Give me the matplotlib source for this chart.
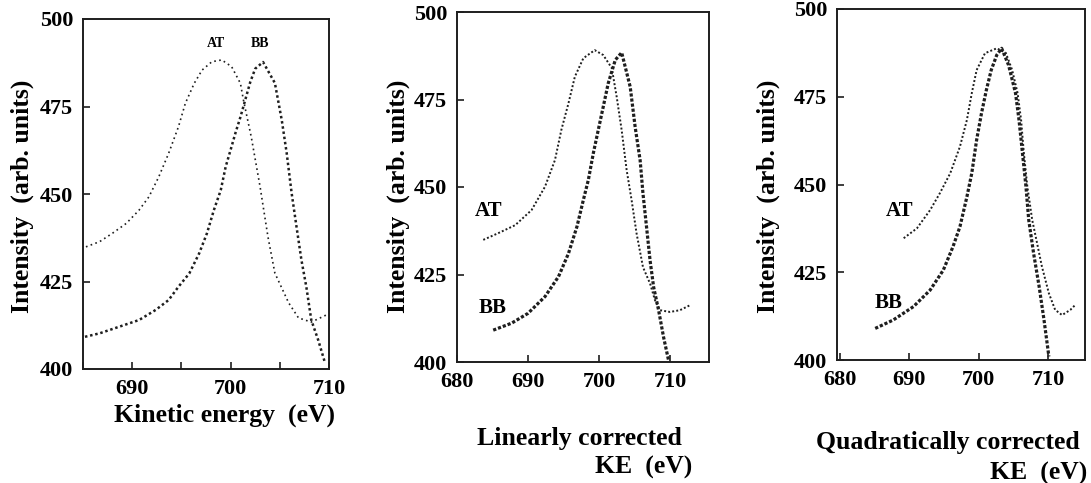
import matplotlib
matplotlib.use('Agg')
from matplotlib import pyplot as plt
from matplotlib.ticker import MultipleLocator

plt.rcParams['font.family'] = ['Liberation Serif', 'DejaVu Serif']
plt.rcParams['font.weight'] = 'bold'

# Panel 1: raw kinetic energy
at1_x = [685.3, 686.7, 688.0, 689.4, 690.7, 691.7, 692.7, 693.7, 694.7, 695.4, 696.3, 697.1,
         698.1, 699.1, 700.1, 701.0, 701.3, 702.1, 703.0, 703.8, 704.5, 705.9, 706.9, 708.2,
         709.7]
at1_y = [434.9, 436.4, 438.8, 441.6, 445.4, 449.2, 454.9, 461.6, 469.2, 475.9, 481.6, 485.4,
         487.8, 488.3, 486.4, 481.6, 476.9, 466.3, 452.0, 437.7, 427.4, 418.9, 414.6, 413.4,
         415.4]
bb1_x = [685.2, 686.7, 688.7, 690.7, 692.4, 693.7, 694.7, 695.8, 696.8, 697.6, 698.3, 699.0,
         699.5, 700.0, 700.5, 701.0, 701.5, 702.0, 702.5, 703.3, 704.5, 705.2, 705.7, 706.2,
         706.7, 707.2, 707.7, 708.2, 708.9, 709.6]
bb1_y = [409.2, 410.2, 412.1, 414.0, 416.9, 419.7, 423.5, 427.3, 433.0, 438.8, 445.4, 451.1,
         457.8, 462.6, 467.5, 472.0, 477.0, 482.0, 485.8, 487.7, 481.7, 471.1, 461.7, 450.3,
         440.6, 431.1, 423.4, 414.0, 408.3, 401.7]

# Panel 2: linearly corrected
at2_x = [683.7, 685.8, 688.2, 690.5, 692.4, 693.8, 694.7, 695.7, 696.6, 697.8, 699.4, 700.6,
         701.8, 702.5, 703.2, 703.9, 704.6, 705.3, 706.2, 707.2, 707.9, 708.6, 710.0, 711.4,
         712.8]
at2_y = [434.9, 436.8, 439.1, 443.4, 450.1, 457.7, 466.3, 473.9, 481.5, 486.8, 489.1, 487.7,
         484.0, 475.7, 466.2, 454.8, 446.2, 436.7, 427.1, 422.4, 417.6, 414.8, 414.3, 414.8,
         416.2]
bb2_x = [685.1, 687.7, 690.0, 692.4, 694.3, 695.7, 696.9, 697.8, 698.5, 699.2, 699.9, 700.6,
         701.3, 702.3, 703.2, 704.4, 705.1, 705.8, 706.2, 706.7, 707.2, 707.7, 708.4, 709.1,
         709.8]
bb2_y = [409.1, 411.1, 413.9, 418.7, 424.4, 431.0, 438.7, 446.3, 452.0, 459.6, 466.3, 472.9,
         479.6, 486.3, 488.4, 478.6, 467.1, 457.6, 448.1, 438.6, 429.0, 421.4, 414.8, 407.1,
         400.5]

# Panel 3: quadratically corrected
at3_x = [689.2, 691.1, 693.0, 694.4, 695.9, 697.3, 698.3, 699.0, 699.7, 700.9, 702.6, 703.9,
         704.8, 705.6, 706.1, 706.5, 707.0, 707.7, 708.4, 709.1, 710.1, 711.0, 712.0, 713.2,
         713.9]
at3_y = [434.7, 437.5, 442.7, 447.5, 453.2, 460.8, 468.4, 476.0, 482.6, 487.4, 488.8, 487.5,
         482.7, 476.0, 468.4, 458.9, 449.4, 439.9, 433.3, 426.6, 419.0, 414.3, 412.8, 414.3,
         415.7]
bb3_x = [685.1, 687.7, 690.6, 693.0, 694.9, 696.3, 697.3, 698.3, 699.0, 699.7, 700.4, 701.1,
         701.8, 702.6, 703.3, 704.3, 705.3, 705.8, 706.3, 706.8, 707.2, 707.9, 708.7, 709.4,
         710.1]
bb3_y = [409.0, 411.4, 415.2, 419.9, 425.6, 432.3, 438.0, 446.5, 453.2, 462.7, 470.3, 476.9,
         482.6, 486.9, 488.8, 484.0, 476.0, 468.4, 458.9, 449.4, 439.9, 430.4, 420.9, 411.4,
         401.0]

y_ticks = [400, 425, 450, 475, 500]
ink = '#1e1e1e'

fig = plt.figure(figsize=(10.91, 4.83), dpi=100)
W, H = 1091.0, 483.0


def add_axes(left, top, right, bottom):
    return fig.add_axes([left / W, 1 - bottom / H, (right - left) / W, (bottom - top) / H])


ax1 = add_axes(83, 19, 329, 369)
ax2 = add_axes(457, 12, 709, 362)
ax3 = add_axes(837, 9, 1085, 360)

ax1.plot(at1_x, at1_y, color=ink, lw=1.2, ls=(0, (1, 2.0)))
ax1.plot(bb1_x, bb1_y, color=ink, lw=1.8, ls=(0, (1, 1.1)))
ax1.text(698.5, 493, 'AT', fontsize=10, ha='center', va='center')
ax1.text(703.0, 493, 'BB', fontsize=10, ha='center', va='center')
ax1.set_xlim(685, 710)
ax1.set_xticks([690, 700, 710])
ax1.xaxis.set_minor_locator(MultipleLocator(5))

ax2.plot(at2_x, at2_y, color=ink, lw=1.4, ls=(0, (1, 1.1)))
ax2.plot(bb2_x, bb2_y, color=ink, lw=2.3, ls=(0, (1, 0.6)))
ax2.text(684.4, 443, 'AT', fontsize=15, ha='center', va='center')
ax2.text(685.0, 415.5, 'BB', fontsize=15, ha='center', va='center')
ax2.set_xlim(680, 715.5)
ax2.set_xticks([680, 690, 700, 710])

ax3.plot(at3_x, at3_y, color=ink, lw=1.4, ls=(0, (1, 1.1)))
ax3.plot(bb3_x, bb3_y, color=ink, lw=2.3, ls=(0, (1, 0.6)))
ax3.text(688.6, 442.5, 'AT', fontsize=15, ha='center', va='center')
ax3.text(687.1, 416.2, 'BB', fontsize=15, ha='center', va='center')
ax3.set_xlim(679.6, 715.3)
ax3.set_xticks([680, 690, 700, 710])

for ax in (ax1, ax2, ax3):
    ax.set_ylim(400, 500)
    ax.set_yticks(y_ticks)
    ax.tick_params(direction='in', length=5, width=1.2, labelsize=16, pad=7, color=ink)
    ax.tick_params(which='minor', direction='in', length=5, width=1.2, color=ink)
    for lab in ax.get_xticklabels() + ax.get_yticklabels():
        lab.set_fontweight('bold')
    for sp in ax.spines.values():
        sp.set_linewidth(1.4)
        sp.set_color(ink)

# y-axis titles
for xc in (22, 398, 768):
    fig.text(xc / W, 1 - 196 / H, 'Intensity  (arb. units)', fontsize=18.5, fontweight='bold',
             rotation=90, ha='center', va='center')

fig.text(224 / W, 1 - 415 / H, 'Kinetic energy  (eV)', fontsize=18.5, fontweight='bold',
         ha='center', va='center')
fig.text(682 / W, 1 - 438 / H, 'Linearly corrected', fontsize=18.5, fontweight='bold',
         ha='right', va='center')
fig.text(692 / W, 1 - 467 / H, 'KE  (eV)', fontsize=18.5, fontweight='bold',
         ha='right', va='center')
fig.text(1080 / W, 1 - 443 / H, 'Quadratically corrected', fontsize=18.5, fontweight='bold',
         ha='right', va='center')
fig.text(1087 / W, 1 - 473 / H, 'KE  (eV)', fontsize=18.5, fontweight='bold',
         ha='right', va='center')

fig.savefig('out.png', dpi=100)
